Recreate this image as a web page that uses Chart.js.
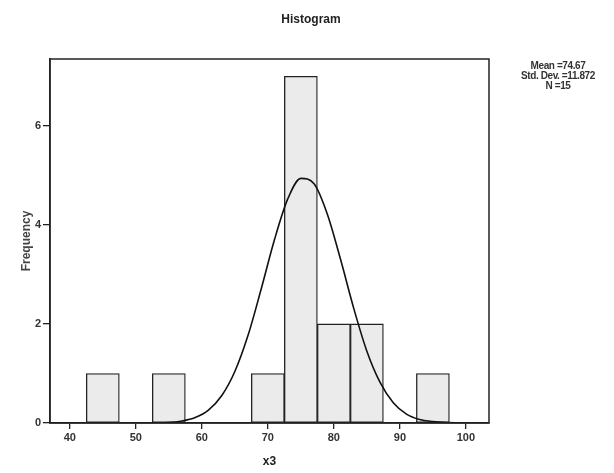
<!DOCTYPE html>
<html>
<head>
<meta charset="utf-8">
<script src="https://cdn.jsdelivr.net/npm/chart.js@4"></script>
<style>
  html, body { margin: 0; padding: 0; background: #ffffff; }
  #wrap { position: relative; width: 614px; height: 473px; }
  #title {
    position: absolute; left: 261px; top: 12px; width: 100px; text-align: center;
    font-family: "Liberation Sans", Arial, sans-serif; font-size: 12px; font-weight: bold; color: #222;
  }
  #stats {
    position: absolute; left: 506px; top: 61px; width: 104px;
    font-family: "Liberation Sans", Arial, sans-serif; font-size: 10px; font-weight: bold;
    line-height: 10px; text-align: center; color: #333; letter-spacing: -0.4px;
  }
</style>
</head>
<body>
<div id="wrap">
  <canvas id="c" width="614" height="473"></canvas>
  <div id="title">Histogram</div>
  <div id="stats">Mean =74.67<br>Std. Dev. =11.872<br>N =15</div>
</div>
<script>
// Histogram bins (centers) and frequencies
const binCenters = [45, 55, 70, 75, 80, 85, 95];
const frequencies = [1, 1, 1, 7, 2, 2, 1];
// Normal curve points
const curveX = [37, 40, 45, 50, 53, 55, 57, 59, 61, 63, 65, 67, 69, 71, 73, 75, 77, 79, 81, 83, 85, 87, 89, 91, 93, 95, 97, 100, 103.5];
const curveY = [0, 0, 0, 0, 0.005, 0.01, 0.04, 0.11, 0.26, 0.55, 1.04, 1.77, 2.71, 3.70, 4.52, 4.94, 4.83, 4.22, 3.31, 2.32, 1.45, 0.82, 0.41, 0.18, 0.07, 0.03, 0.01, 0, 0];
const xTicks = [40, 50, 60, 70, 80, 90, 100];
const yTicks = [0, 2, 4, 6];

const frame = {
  id: 'frame',
  afterDatasetsDraw(chart) {
    const a = chart.chartArea, ctx = chart.ctx;
    ctx.save();
    ctx.strokeStyle = '#222';
    ctx.lineWidth = 1.5;
    ctx.strokeRect(a.left, a.top, a.right - a.left, a.bottom - a.top);
    ctx.restore();
  }
};

const tickFont = { family: '"Liberation Sans", Arial, sans-serif', size: 11, weight: 'bold' };

new Chart(document.getElementById('c'), {
  type: 'bar',
  data: {
    datasets: [
      {
        type: 'line',
        data: curveX.map((x, i) => ({ x: x, y: curveY[i] })),
        borderColor: '#111',
        borderWidth: 1.6,
        pointRadius: 0,
        fill: false,
        cubicInterpolationMode: 'monotone',
        order: 0
      },
      {
        type: 'bar',
        data: binCenters.map((x, i) => ({ x: x, y: frequencies[i] })),
        backgroundColor: '#ebebeb',
        borderColor: '#222',
        borderWidth: 1.3,
        borderSkipped: false,
        barPercentage: 1,
        categoryPercentage: 1,
        order: 1
      }
    ]
  },
  plugins: [frame],
  options: {
    responsive: false,
    animation: false,
    layout: { padding: { left: 0, right: 125, top: 59, bottom: 0 } },
    plugins: {
      legend: { display: false },
      tooltip: { enabled: false },
      title: { display: false }
    },
    scales: {
      x: {
        type: 'linear',
        min: 37,
        max: 103.5,
        offset: false,
        afterBuildTicks(s) { s.ticks = xTicks.map(v => ({ value: v })); },
        afterFit(s) { s.height = 50; },
        ticks: { color: '#333', font: tickFont, padding: 2, maxRotation: 0, autoSkip: false },
        grid: { display: true, drawOnChartArea: false, drawTicks: true, tickLength: 6, color: '#222', lineWidth: 1.3, offset: false },
        border: { display: true, color: '#222', width: 1.5 },
        title: {
          display: true, text: 'x3', color: '#222',
          font: { family: '"Liberation Sans", Arial, sans-serif', size: 12, weight: 'bold' },
          padding: { top: 0, bottom: 4 }
        }
      },
      y: {
        type: 'linear',
        min: 0,
        max: 7.35,
        afterBuildTicks(s) { s.ticks = yTicks.map(v => ({ value: v })); },
        afterFit(s) { s.width = 50; },
        ticks: { color: '#333', font: tickFont, padding: 2 },
        grid: { display: true, drawOnChartArea: false, drawTicks: true, tickLength: 7, color: '#222', lineWidth: 1.3 },
        border: { display: true, color: '#222', width: 1.5 },
        title: {
          display: true, text: 'Frequency', color: '#444',
          font: { family: '"Liberation Sans", Arial, sans-serif', size: 12, weight: 'bold' },
          padding: { top: 19, bottom: 0 }
        }
      }
    }
  }
});
</script>
</body>
</html>
